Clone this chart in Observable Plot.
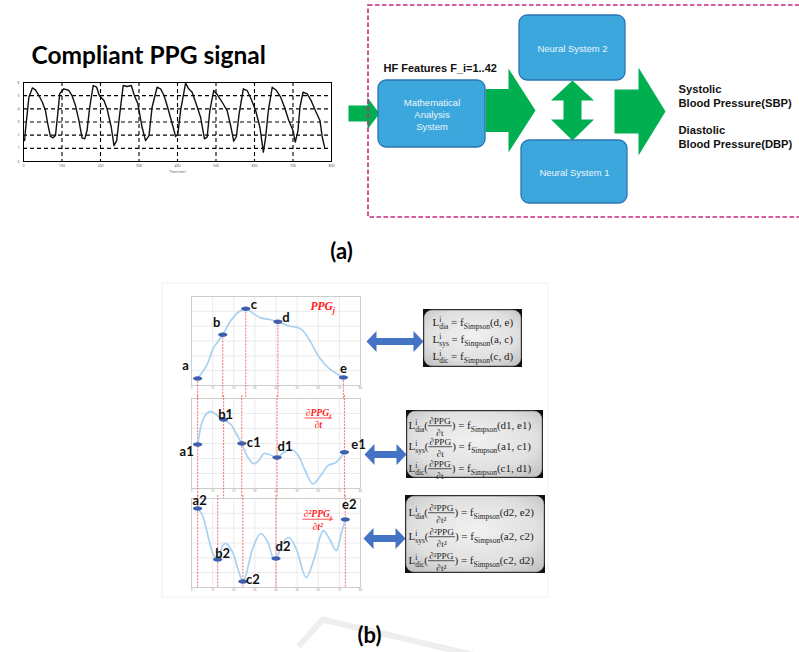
<!DOCTYPE html>
<html><head><meta charset="utf-8">
<script src="https://cdn.jsdelivr.net/npm/d3@7"></script>
<script src="https://cdn.jsdelivr.net/npm/@observablehq/plot@0.6"></script>
<style>
html,body{margin:0;padding:0;background:#fff;}
#root{position:relative;width:799px;height:652px;overflow:hidden;background:#fff;}
#root > div{position:absolute;line-height:0;}
</style></head><body><div id="root"></div>
<script>
// ================= DATA =================
// (a) compliant PPG signal (sample index, amplitude in grid units)
const ppgTime = [3,5,14,23,31,40,49,57,63,70,77,83, 89,94,105,118,126,135,144,152,159,165, 172,181,190,197,209,217,228,235,242, 250,259,269,280,288,297,308,317,326, 334,347,356,365,373,384,395,401, 408,421,429,438,447,460,470,477, 484,494,505,516,529,539,546,553, 560,571,581,591,603,614,623,629, 636,646,657,668,678,689,700,706,713, 718,726,737,747,758,770,776,782];
const ppgValue = [1.59,2.35,4.88,5.59,5.44,5.01,4.50,3.87,2.86,1.90,1.80,1.97, 3.62,5.14,5.52,5.39,5.01,4.25,3.11,1.80,1.72,2.35, 4.12,5.77,5.64,5.01,4.63,4.00,2.60,1.21,1.59, 3.62,5.77,5.70,5.77,5.01,4.38,2.60,1.59,1.97, 4.12,5.64,5.52,5.01,4.25,3.11,1.90,2.10, 3.87,5.95,5.52,5.26,4.50,3.36,1.72,1.85, 3.87,5.39,5.01,4.50,3.87,2.60,1.54,1.90, 3.62,5.52,5.39,4.76,3.87,2.60,0.71,1.85, 3.87,5.64,5.39,4.88,4.12,3.11,2.35,1.47,2.35, 4.12,5.26,5.14,4.63,3.87,3.11,1.85,1.09];
const ppgXTicks = [0,100,200,300,400,500,600,700,800];
const ppgYTicks = [0,1,2,3,4,5,6];
const ppgXLabel = "Time (sec)";
const ppgTitle = "Compliant PPG signal";

// (b) single beat PPG_j and its derivatives
const beatTime = [2.9,5.7,7.6,10.5,14.8,18.6,22.4,25.7,29.5,32.8,37.6,40.9,45.7,50.5,52.8,56.6,60.5,64.7,68.5,71.9];
const beatValue = [0.47,1.01,1.48,2.55,3.42,4.36,4.97,5.17,4.83,4.56,4.43,4.30,4.03,3.89,3.69,2.89,1.88,1.21,0.81,0.54];
const beatNames = ["a","b","c","d","e"];
const beatFeatTime = [2.9,14.8,25.7,40.9,71.9];
const beatFeatValue = [0.47,3.42,5.17,4.30,0.54];

const d1Time = [2.9,5.2,7.6,9.5,11.4,13.3,15.2,18.6,21.4,23.8,26.2,29.5,31.9,34.3,37.1,40.5,43.8,47.1,50.5,53.8,57.5,60.9,64.6,68.5,72.4];
const d1Value = [2.93,4.5,5.05,5.12,4.95,4.75,4.6,4.27,3.6,3.0,2.2,1.65,1.87,2.33,2.25,2.07,2.4,2.6,2.2,1.2,0.31,0.8,1.53,1.75,2.42];
const d1Names = ["a1","b1","c1","d1","e1"];
const d1FeatTime = [2.9,15.2,23.8,40.5,72.4];
const d1FeatValue = [2.93,4.6,3.0,2.07,2.42];

const d2Time = [2.9,5.2,8.1,10.5,12.4,14.8,16.2,19.5,21.9,24.3,25.7,29.0,32.8,36.2,38.6,40.0,43.3,46.2,49.5,54.3,58.1,62.4,65.2,68.5,70.9,72.8];
const d2Value = [5.33,4.86,3.3,2.16,1.89,2.83,2.97,2.36,1.28,0.40,0.81,2.63,3.64,3.03,2.02,1.96,3.03,3.37,2.63,0.67,1.96,3.84,3.30,2.49,3.64,4.59];
const d2Names = ["a2","b2","c2","d2","e2"];
const d2FeatTime = [2.9,12.4,24.3,40.0,72.8];
const d2FeatValue = [5.33,1.89,0.40,1.96,4.59];

const beatXTicks = [0,10,20,30,40,50,60,70,80];
const beatYTicks = [0,1,2,3,4,5,6];
const panelTitles = ["PPG_{j}", "\\frac{∂PPG_{j}}{∂t}", "\\frac{∂²PPG_{j}}{∂t²}"];

// block diagram texts
const boxLabels = ["Mathematical\nAnalysis\nSystem", "Neural System 2", "Neural System 1"];
const featureLabel = "HF Features F_i=1..42";
const outputLabels = ["Systolic", "Blood Pressure(SBP)", "Diastolic", "Blood Pressure(DBP)"];
const panelLabels = ["(a)", "(b)"];
const formulas = [
  ["L^{i}_{dia} = f_{Simpson}(d, e)", "L^{i}_{sys} = f_{Simpson}(a, c)", "L^{i}_{dic} = f_{Simpson}(c, d)"],
  ["L^{i}_{dia}(\\frac{∂PPG}{∂t}) = f_{Simpson}(d1, e1)", "L^{i}_{sys}(\\frac{∂PPG}{∂t}) = f_{Simpson}(a1, c1)", "L^{i}_{dic}(\\frac{∂PPG}{∂t}) = f_{Simpson}(c1, d1)"],
  ["L^{i}_{dia}(\\frac{∂²PPG}{∂t²}) = f_{Simpson}(d2, e2)", "L^{i}_{sys}(\\frac{∂²PPG}{∂t²}) = f_{Simpson}(a2, c2)", "L^{i}_{dic}(\\frac{∂²PPG}{∂t²}) = f_{Simpson}(c2, d2)"]
];

// ================= LAYOUT (diagram space, px) =================
const W = 799, H = 652;
const L = {
  title: {x: 31, y: 55.5},
  labels: [{x: 341, y: 251}, {x: 369, y: 635}],
  dashed: {x1: 368, x2: 804, y1: 5, y2: 217},
  arrowIn: {x0: 348, xh: 367, xt: 379, y: 113, bh: 8, hh: 16},
  arrow1: {x0: 485, xh: 508, xt: 535, y: 110, bh: 21.5, hh: 42},
  arrow2: {x0: 614, xh: 638, xt: 665, y: 111, bh: 22, hh: 44},
  arrowV: {x: 572, yt1: 80, yh1: 100, yh2: 119, yt2: 140, bw: 9, hw: 21.5},
  boxes: [{x1: 378, x2: 485, y1: 80, y2: 147}, {x1: 519, x2: 625, y1: 15, y2: 80}, {x1: 521, x2: 627, y1: 140, y2: 203}],
  hf: {x: 383, y: 67.5},
  outX: 678, outY: [88.5, 102.5, 129.5, 144],
  panelB: {x1: 162, x2: 548, y1: 283, y2: 597},
  chevron: [[298, 646], [322, 619], [505, 662]],
  blue: [{x0: 366, x1: 423, y: 341}, {x0: 364, x1: 406, y: 454}, {x0: 363, x1: 405, y: 538}],
  blueShape: {hl: 10, hh: 10.5, bh: 3.6},
  fboxes: [{x1: 423, x2: 522, y1: 309, y2: 367}, {x1: 406, x2: 543, y1: 410, y2: 478}, {x1: 405, x2: 545, y1: 495, y2: 573}],
  fx: [432, 408, 408],
  fy: [[322, 339, 356], [425, 446, 468], [512, 536, 560]]
};

// ================= HELPERS =================
const NS = "http://www.w3.org/2000/svg";
const root = document.getElementById("root");
function place(el, left, top) {
  const d = document.createElement("div");
  d.style.left = left + "px"; d.style.top = top + "px";
  d.appendChild(el); root.appendChild(d);
}
function hArrow(a) {
  return [[a.x0, a.y - a.bh], [a.xh, a.y - a.bh], [a.xh, a.y - a.hh], [a.xt, a.y], [a.xh, a.y + a.hh], [a.xh, a.y + a.bh], [a.x0, a.y + a.bh]];
}
function vDouble(a) {
  return [[a.x, a.yt1], [a.x + a.hw, a.yh1], [a.x + a.bw, a.yh1], [a.x + a.bw, a.yh2], [a.x + a.hw, a.yh2], [a.x, a.yt2],
          [a.x - a.hw, a.yh2], [a.x - a.bw, a.yh2], [a.x - a.bw, a.yh1], [a.x - a.hw, a.yh1]];
}
function hDouble(a, s) {
  return [[a.x0, a.y], [a.x0 + s.hl, a.y - s.hh], [a.x0 + s.hl, a.y - s.bh], [a.x1 - s.hl, a.y - s.bh], [a.x1 - s.hl, a.y - s.hh], [a.x1, a.y],
          [a.x1 - s.hl, a.y + s.hh], [a.x1 - s.hl, a.y + s.bh], [a.x0 + s.hl, a.y + s.bh], [a.x0 + s.hl, a.y + s.hh]];
}
const poly = (id, pts) => pts.map(([x, y]) => ({id, x, y}));

const ellipseSym = {draw(ctx) {
  const rx = 4.6, ry = 2.2, k = 0.5523;
  ctx.moveTo(rx, 0);
  ctx.bezierCurveTo(rx, ry * k, rx * k, ry, 0, ry);
  ctx.bezierCurveTo(-rx * k, ry, -rx, ry * k, -rx, 0);
  ctx.bezierCurveTo(-rx, -ry * k, -rx * k, -ry, 0, -ry);
  ctx.bezierCurveTo(rx * k, -ry, rx, -ry * k, rx, 0);
  ctx.closePath();
}};

// ---- rich text (sub/sup/fractions) ----
function parseRich(s) {
  const out = []; let i = 0, buf = "";
  const flush = () => { if (buf) out.push({t: "n", s: buf}); buf = ""; };
  const group = () => {
    let depth = 0; const start = i + 1;
    for (; i < s.length; i++) { if (s[i] === "{") depth++; else if (s[i] === "}") { depth--; if (!depth) break; } }
    const g = s.slice(start, i); i++; return g;
  };
  while (i < s.length) {
    const c = s[i];
    if ((c === "_" || c === "^") && s[i + 1] === "{") { flush(); i++; out.push({t: c === "_" ? "sub" : "sup", s: group()}); }
    else if (s.startsWith("\\frac", i)) { flush(); i += 5; const a = group(); const b = group(); out.push({t: "frac", num: parseRich(a), den: parseRich(b)}); }
    else { buf += c; i++; }
  }
  flush(); return out;
}
function addSpan(el, s, x, y, size, nodes) {
  const t = document.createElementNS(NS, "tspan");
  t.setAttribute("x", x); t.setAttribute("y", y); t.setAttribute("font-size", size);
  t.textContent = s; el.appendChild(t); nodes.push(t);
  return t.getComputedTextLength();
}
function layoutRich(el, tokens, x, base, size, nodes, bars) {
  let cx = x, scriptStart = x, scriptEnd = x;
  tokens.forEach((tk, k) => {
    const prev = tokens[k - 1];
    if (tk.t === "sub" || tk.t === "sup") {
      const stacked = prev && (prev.t === "sub" || prev.t === "sup") && prev.t !== tk.t;
      const sxp = stacked ? scriptStart : cx;
      const syp = base + (tk.t === "sub" ? 0.28 : -0.4) * size;
      const w = layoutRich(el, parseRich(tk.s), sxp, syp, size * 0.68, nodes, bars);
      if (stacked) cx = Math.max(scriptEnd, sxp + w); else { scriptStart = sxp; cx = sxp + w; }
      scriptEnd = cx;
    } else if (tk.t === "frac") {
      const fs = size * 0.84, nn = [], dn = [];
      const wn = layoutRich(el, tk.num, 0, base - 0.5 * size, fs, nn, bars);
      const wd = layoutRich(el, tk.den, 0, base + 0.6 * size, fs, dn, bars);
      const Wf = Math.max(wn, wd) + size * 0.2;
      nn.forEach(n => n.setAttribute("x", +n.getAttribute("x") + cx + (Wf - wn) / 2));
      dn.forEach(n => n.setAttribute("x", +n.getAttribute("x") + cx + (Wf - wd) / 2));
      nodes.push(...nn, ...dn);
      bars.push({x1: cx, x2: cx + Wf, y: base - 0.3 * size, w: Math.max(0.6, size * 0.07)});
      cx += Wf;
    } else {
      cx += addSpan(el, tk.s, cx, base, size, nodes);
    }
  });
  return cx - x;
}
function richify(svg) {
  svg.querySelectorAll("text").forEach(el => {
    const src = el.textContent;
    if (!/[_^]\{|\\frac/.test(src)) return;
    const cs = getComputedStyle(el);
    const size = parseFloat(cs.fontSize);
    const num = (v) => !v ? 0 : (String(v).endsWith("em") ? parseFloat(v) * size : parseFloat(v));
    const x0 = num(el.getAttribute("x")) + num(el.getAttribute("dx"));
    const base = num(el.getAttribute("y")) + num(el.getAttribute("dy"));
    ["x", "y", "dx", "dy"].forEach(a => el.removeAttribute(a));
    el.textContent = "";
    el.setAttribute("text-anchor", "start");
    const nodes = [], bars = [];
    layoutRich(el, parseRich(src), x0, base, size, nodes, bars);
    bars.forEach(b => {
      const ln = document.createElementNS(NS, "line");
      ln.setAttribute("x1", b.x1); ln.setAttribute("x2", b.x2);
      ln.setAttribute("y1", b.y); ln.setAttribute("y2", b.y);
      ln.setAttribute("stroke", cs.fill); ln.setAttribute("stroke-width", b.w);
      const tr = el.getAttribute("transform"); if (tr) ln.setAttribute("transform", tr);
      el.parentNode.appendChild(ln);
    });
  });
}

// ================= DIAGRAM LAYER =================
const green = "#00b050";
const greenPolys = [...poly("in", hArrow(L.arrowIn)), ...poly("a1", hArrow(L.arrow1)), ...poly("a2", hArrow(L.arrow2)), ...poly("v", vDouble(L.arrowV))];
const bluePolys = L.blue.flatMap((a, i) => poly("b" + i, hDouble(a, L.blueShape)));
const formulaRows = formulas.flatMap((lines, b) => lines.map((text, j) => ({text, x: L.fx[b], y: L.fy[b][j]})));
const chevron = L.chevron.map(([x, y]) => ({x, y}));

const diagram = Plot.plot({
  width: W, height: H, margin: 0,
  x: {domain: [0, W], range: [0, W], axis: null},
  y: {domain: [0, H], range: [0, H], axis: null},
  style: {background: "transparent", overflow: "visible"},
  marks: [
    Plot.rect([L.panelB], {x1: "x1", x2: "x2", y1: "y1", y2: "y2", fill: "none", stroke: "#f0f0f0", strokeWidth: 1}),
    Plot.line(chevron, {x: "x", y: "y", stroke: "#eeeeee", strokeWidth: 6, strokeLinejoin: "miter", strokeLinecap: "butt"}),
    Plot.text([ppgTitle], {x: L.title.x, y: L.title.y, textAnchor: "start", fontFamily: "Lato", fontWeight: "bold", fontSize: 24.5, fill: "#000"}),
    Plot.text(panelLabels, {x: (d, i) => L.labels[i].x, y: (d, i) => L.labels[i].y, text: d => d, fontFamily: "Lato", fontWeight: "bold", fontSize: 22, fill: "#000"}),
    Plot.line(greenPolys, {x: "x", y: "y", z: "id", fill: green, stroke: "none"}),
    Plot.rect([L.dashed], {x1: "x1", x2: "x2", y1: "y1", y2: "y2", fill: "none", stroke: "#c8267f", strokeWidth: 1.6, strokeDasharray: "4.5,2.5"}),
    Plot.rect(L.boxes, {x1: "x1", x2: "x2", y1: "y1", y2: "y2", rx: 8, fill: "#3ba7dd", stroke: "#2c74b3", strokeWidth: 1.3}),
    Plot.text(boxLabels, {x: (d, i) => (L.boxes[i].x1 + L.boxes[i].x2) / 2, y: (d, i) => (L.boxes[i].y1 + L.boxes[i].y2) / 2, text: d => d, lineHeight: 1.3, fill: "#eef5fc", fontFamily: "Liberation Sans", fontSize: 9.5}),
    Plot.text([featureLabel], {x: L.hf.x, y: L.hf.y, textAnchor: "start", fontFamily: "Liberation Sans", fontWeight: "bold", fontSize: 11, fill: "#111"}),
    Plot.text(outputLabels, {x: L.outX, y: (d, i) => L.outY[i], text: d => d, textAnchor: "start", fontFamily: "Liberation Sans", fontWeight: "bold", fontSize: 11.2, fill: "#111"}),
    Plot.line(bluePolys, {x: "x", y: "y", z: "id", fill: "#4472c4", stroke: "none"}),
    Plot.rect(L.fboxes, {x1: "x1", x2: "x2", y1: "y1", y2: "y2", fill: "#111"}),
    Plot.rect(L.fboxes, {x1: d => d.x1 + 1.2, x2: d => d.x2 - 1.2, y1: d => d.y1 + 1.2, y2: d => d.y2 - 1.2, rx: 8, fill: "url(#fboxGrad)", stroke: "#bdbdbd", strokeWidth: 0.6}),
    Plot.text(formulaRows, {x: "x", y: "y", text: "text", textAnchor: "start", fontFamily: "Liberation Serif", fontSize: 11, fill: "#222"})
  ]
});
{
  const defs = document.createElementNS(NS, "defs");
  defs.innerHTML = '<radialGradient id="fboxGrad" cx="50%" cy="45%" r="70%"><stop offset="0%" stop-color="#f1f1f1"/><stop offset="65%" stop-color="#e0e0e0"/><stop offset="100%" stop-color="#c2c2c2"/></radialGradient>';
  diagram.insertBefore(defs, diagram.firstChild);
}
place(diagram, 0, 0);

// ================= (a) PPG SIGNAL =================
const ppgRows = ppgTime.map((t, i) => ({t, v: ppgValue[i]}));
const ppgPlot = Plot.plot({
  width: 341, height: 109, marginLeft: 23, marginRight: 10, marginTop: 10, marginBottom: 20,
  x: {domain: [0, 800], axis: null}, y: {domain: [0, 6], axis: null},
  style: {background: "transparent", overflow: "visible"},
  marks: [
    Plot.ruleX(ppgXTicks.slice(1, -1), {stroke: "#000", strokeWidth: 1.1, strokeDasharray: "4,3"}),
    Plot.ruleY(ppgYTicks.slice(1, -1), {stroke: "#000", strokeWidth: 1.1, strokeDasharray: "4,3"}),
    Plot.frame({stroke: "#000", strokeWidth: 1}),
    Plot.line(ppgRows, {x: "t", y: "v", stroke: "#111", strokeWidth: 1.4, strokeLinejoin: "round"}),
    Plot.text(ppgXTicks, {x: d => d, text: d => String(d), frameAnchor: "bottom", dy: 5, fontSize: 3.5, fill: "#555"}),
    Plot.text(ppgYTicks, {y: d => d, text: d => String(d), frameAnchor: "left", dx: -4, textAnchor: "end", fontSize: 3.5, fill: "#555"}),
    Plot.text([ppgXLabel], {frameAnchor: "bottom", dy: 11, fontSize: 3.5, fill: "#555"})
  ]
});
place(ppgPlot, 0, 72);

// ================= (b) BEAT PANELS =================
function beatPanel(o) {
  const curve = o.t.map((t, i) => ({t, v: o.v[i]}));
  const feats = o.names.map((n, i) => ({n, t: o.ft[i], v: o.fv[i]}));
  return Plot.plot({
    width: 200, height: o.height, marginLeft: 20, marginRight: 11, marginTop: o.mt, marginBottom: o.mb,
    x: {domain: [0, 80], axis: null}, y: {domain: [0, 6], axis: null},
    style: {background: "transparent", overflow: "visible"},
    marks: [
      Plot.ruleX(beatXTicks, {stroke: "#e3e3e3", strokeWidth: 0.7}),
      Plot.ruleY(beatYTicks, {stroke: "#e3e3e3", strokeWidth: 0.7}),
      Plot.frame({stroke: "#c6c6c6", strokeWidth: 0.8}),
      Plot.text(beatXTicks, {x: d => d, text: d => String(d), frameAnchor: "bottom", dy: 3.5, fontSize: 3, fill: "#999"}),
      Plot.ruleX(feats, {x: "t", y1: o.fromPoint ? "v" : o.ruleTop, y2: o.ruleBottom, stroke: "#f05a5a", strokeWidth: 1, strokeDasharray: "2,1.2", strokeOpacity: 0.85}),
      Plot.line(curve, {x: "t", y: "v", curve: "catmull-rom", stroke: "#a9d1f1", strokeWidth: 1.7}),
      Plot.dot(feats, {x: "t", y: "v", symbol: ellipseSym, r: 3, fill: "#3d5fae", stroke: "none"}),
      ...feats.map((f, i) => Plot.text([f], {x: "t", y: "v", text: "n", dx: o.off[i][0], dy: o.off[i][1], fontFamily: "Lato", fontWeight: "bold", fontSize: 13, fill: "#111"})),
      Plot.text([o.title], {frameAnchor: "top-right", text: d => d, dx: o.tdx, dy: o.tdy, textAnchor: "start", fill: "#ff2020", fontFamily: "Liberation Serif", fontStyle: "italic", fontWeight: "bold", fontSize: 11.5})
    ]
  });
}
const topPanel = beatPanel({t: beatTime, v: beatValue, names: beatNames, ft: beatFeatTime, fv: beatFeatValue,
  height: 112, mt: 10, mb: 13, fromPoint: true, ruleBottom: -0.9,
  off: [[-12, -13], [-6, -12], [8, -4], [8, -4], [0, -9]], title: panelTitles[0], tdx: -50, tdy: 5});
const midPanel = beatPanel({t: d1Time, v: d1Value, names: d1Names, ft: d1FeatTime, fv: d1FeatValue,
  height: 104, mt: 3, mb: 11, fromPoint: false, ruleTop: 6.2, ruleBottom: -0.72,
  off: [[-11, 7], [2, -5], [12, -1], [8, -11], [14, -7]], title: panelTitles[1], tdx: -56, tdy: 14.8});
const botPanel = beatPanel({t: d2Time, v: d2Value, names: d2Names, ft: d2FeatTime, fv: d2FeatValue,
  height: 104, mt: 3, mb: 12, fromPoint: false, ruleTop: 6.2, ruleBottom: 0,
  off: [[2, -8], [5, -6], [10, -2], [7, -12], [4, -15]], title: panelTitles[2], tdx: -58, tdy: 16});
place(topPanel, 171, 286);
place(midPanel, 171, 395);
place(botPanel, 171, 495);

root.querySelectorAll("svg").forEach(richify);
</script>
</body></html>
